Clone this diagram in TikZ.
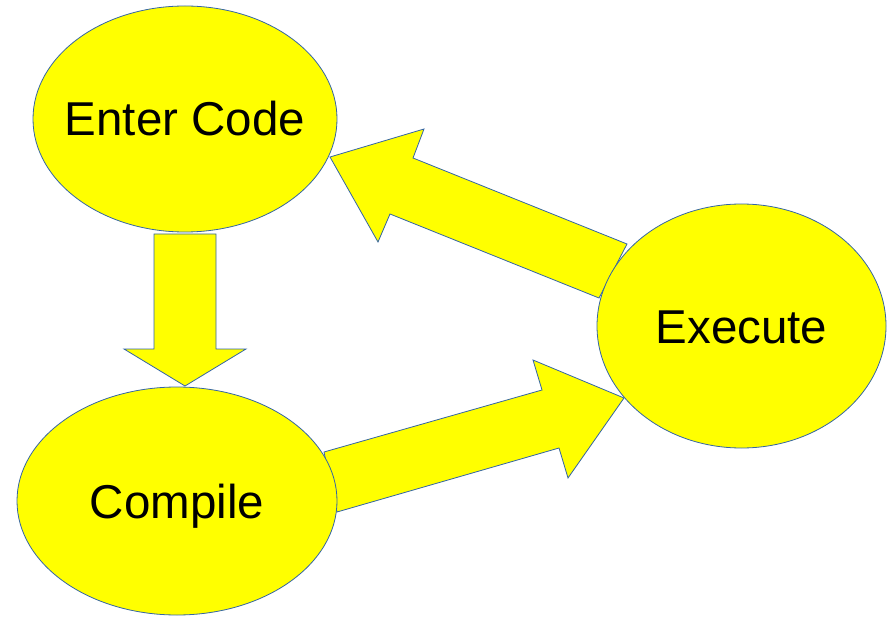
\documentclass[tikz,border=0pt]{standalone}
\usepackage{fontspec}
\setmainfont{Liberation Sans}
\usetikzlibrary{shapes.geometric}
\definecolor{edgeblue}{RGB}{52,101,164}
\definecolor{fillyellow}{RGB}{255,255,0}
\tikzset{
  stage/.style={ellipse, draw=edgeblue, fill=fillyellow, line width=0.8pt,
    inner sep=0pt, outer sep=0pt},
  stagetext/.style={inner sep=0pt, text height=34pt, text depth=0pt,
    font=\fontsize{47.5}{51}\selectfont},
  blockarrow/.style={draw=edgeblue, fill=fillyellow, line width=0.8pt, line join=miter}
}
\begin{document}
\begin{tikzpicture}[x=1pt, y=-1pt]
  \useasboundingbox (0,0) rectangle (893,617);

  % block arrows (drawn first so the ellipses sit on top)
  % Enter Code -> Compile
  \draw[blockarrow] (154,234) -- (216,234) -- (216,349) -- (246,349)
    -- (185,386) -- (124,349) -- (154,349) -- cycle;
  % Compile -> Execute
  \draw[blockarrow] (324,452) -- (542,390) -- (533,360) -- (624,398)
    -- (568,478) -- (559,448) -- (337,512) -- cycle;
  % Execute -> Enter Code
  \draw[blockarrow] (627,244) -- (413,158) -- (424,129) -- (330,157)
    -- (378,242) -- (390,214) -- (599,298) -- cycle;

  % stages
  \node[stage, minimum width=304pt, minimum height=226pt] (enter) at (185,119) {};
  \node[stage, minimum width=320pt, minimum height=228pt] (compile) at (177,501) {};
  \node[stage, minimum width=289pt, minimum height=244pt] (execute) at (741.5,326) {};

  % stage names
  \node[stagetext] (entertext) at (enter.center) {Enter Code};
  \node[stagetext] (compiletext) at (compile.center) {Compile};
  \node[stagetext] (executetext) at (execute.center) {Execute};
\end{tikzpicture}
\end{document}
